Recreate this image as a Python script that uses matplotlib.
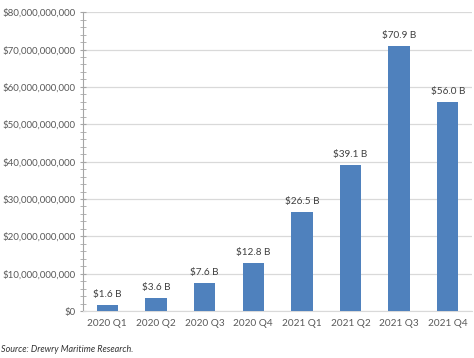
import matplotlib.pyplot as plt
from matplotlib.ticker import FuncFormatter, MultipleLocator

quarters = ['2020 Q1', '2020 Q2', '2020 Q3', '2020 Q4',
            '2021 Q1', '2021 Q2', '2021 Q3', '2021 Q4']
values_b = [1.6, 3.6, 7.6, 12.8, 26.5, 39.1, 70.9, 56.0]
values = [v * 1e9 for v in values_b]

plt.rcParams['font.family'] = ['Lato', 'DejaVu Sans']

fig = plt.figure(figsize=(4.74, 3.58), dpi=100)
ax = fig.add_axes([0.175, 0.131, 0.821, 0.835])

x = range(len(quarters))
ax.bar(x, values, width=0.44, color='#4F81BD', zorder=3)

# value labels above the bars
for i, v in enumerate(values_b):
    ax.text(i, values[i] + 1.6e9, f'${v:.1f} B', ha='center', va='bottom',
            fontsize=7.2, color='#404040')

ax.set_ylim(0, 80e9)
ax.set_xlim(-0.5, len(quarters) - 0.5)
ax.yaxis.set_major_locator(MultipleLocator(10e9))
ax.yaxis.set_minor_locator(MultipleLocator(2e9))
ax.yaxis.set_major_formatter(FuncFormatter(lambda v, p: f'${v:,.0f}'))
ax.grid(axis='y', color='#D9D9D9', linewidth=0.9, zorder=0)

ax.set_xticks(list(x))
ax.set_xticklabels(quarters)
ax.tick_params(axis='x', length=0, labelsize=7.2, colors='#595959', pad=6)
ax.tick_params(axis='y', which='both', direction='inout', length=5,
               color='#A6A6A6', labelsize=7, labelcolor='#595959', pad=3)
ax.tick_params(axis='y', which='minor', length=4)

for s in ['top', 'right']:
    ax.spines[s].set_visible(False)
ax.spines['left'].set_color('#A6A6A6')
ax.spines['bottom'].set_color('#D9D9D9')

fig.text(0.002, 0.018, 'Source: Drewry Maritime Research.', fontsize=6.5,
         style='italic', color='#333333')

fig.savefig('out.png', dpi=100)
